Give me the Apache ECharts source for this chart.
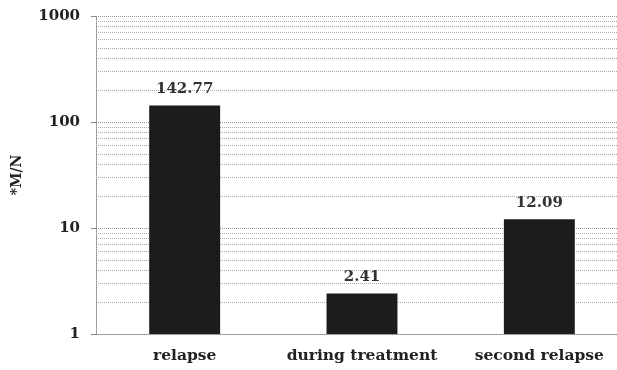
<!DOCTYPE html>
<html><head><meta charset="utf-8">
<script src="https://cdn.jsdelivr.net/npm/echarts@6/dist/echarts.min.js"></script>
<style>html,body{margin:0;padding:0;background:#fff;overflow:hidden;width:617px;height:370px}#c{width:628px;height:370px}</style>
</head><body><div id="c"></div>
<script>
const categories = ['relapse', 'during treatment', 'second relapse'];
const values = [142.77, 2.41, 12.09];
const yTicks = [1, 10, 100, 1000];
const minorGrid = [2,3,4,5,6,7,8,9,20,30,40,50,60,70,80,90,200,300,400,500,600,700,800,900];

const serif = '"DejaVu Serif", "Liberation Serif", serif';
const chart = echarts.init(document.getElementById('c'));
chart.setOption({
  backgroundColor: '#fff',
  animation: false,
  grid: { left: 96, top: 16, bottom: 36, right: 0 },
  xAxis: {
    type: 'category',
    data: categories,
    axisLine: { show: true, lineStyle: { color: '#888', type: 'dotted', width: 1 } },
    axisTick: { show: false },
    axisLabel: { interval: 0, margin: 14, fontFamily: serif, fontWeight: 'bold', fontSize: 15.5, color: '#222' }
  },
  yAxis: {
    type: 'log',
    logBase: 10,
    min: yTicks[0],
    max: yTicks[yTicks.length - 1],
    name: '*M/N',
    nameLocation: 'middle',
    nameRotate: 90,
    nameGap: 72,
    nameTextStyle: { fontFamily: serif, fontWeight: 'bold', fontSize: 14, color: '#222' },
    axisLine: { show: true, lineStyle: { color: '#888', type: 'dotted', width: 1 } },
    axisTick: { show: true, length: 5, lineStyle: { color: '#888' } },
    axisLabel: { margin: 16, fontFamily: serif, fontWeight: 'bold', fontSize: 15, color: '#222',
      formatter: v => String(Math.round(v)) },
    splitLine: { show: true, lineStyle: { color: '#999', type: 'dotted', width: 1 } }
  },
  series: [{
    type: 'bar',
    data: values,
    barWidth: '40%',
    itemStyle: { color: '#1c1c1c' },
    label: { show: true, position: 'top', distance: 9, fontFamily: serif, fontWeight: 'bold', fontSize: 15, color: '#333',
      formatter: p => p.value.toFixed(2) },
    markLine: {
      silent: true,
      symbol: 'none',
      label: { show: false },
      lineStyle: { color: '#aaa', type: 'dotted', width: 1 },
      data: minorGrid.map(v => ({ yAxis: v })),
      z: 1
    },
    z: 3
  }]
});
</script></body></html>
